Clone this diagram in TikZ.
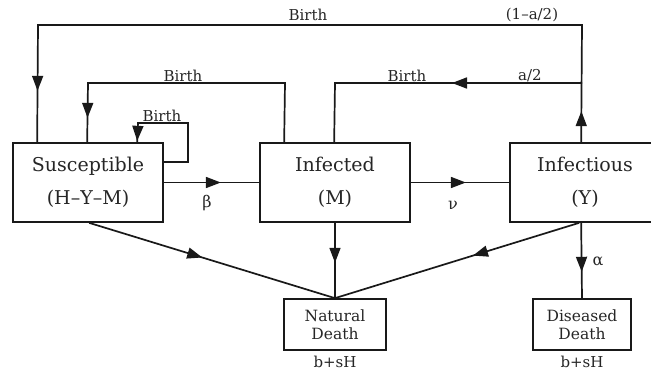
\documentclass[tikz,border=0pt]{standalone}
\usepackage{fontspec}
\setmainfont{DejaVu Serif}
\usetikzlibrary{arrows.meta,decorations.markings}
\tikzset{
  x=1pt,y=-1pt,
  mytip/.tip={Triangle[length=15pt,width=11pt]},
  ln/.style={line width=1.7pt,line join=miter,draw=black!90},
  box/.style={ln,rectangle,inner sep=0pt,align=center,text=black!85},
  bigbox/.style={box,minimum width=150pt,minimum height=79pt,font=\fontsize{19}{33}\selectfont},
  smallbox/.style={box,minimum height=51pt,font=\fontsize{15.5}{18}\selectfont},
  lbl/.style={inner sep=0pt,text=black!85,font=\fontsize{15}{18}\selectfont},
  glbl/.style={inner sep=0pt,text=black!85,font=\fontsize{16}{18}\selectfont},
  arrs/.style={postaction={decorate,decoration={markings,mark=at position #1 with {\arrow{mytip}}}}},
  arrsII/.style 2 args={postaction={decorate,decoration={markings,
      mark=at position #1 with {\arrow{mytip}},mark=at position #2 with {\arrow{mytip}}}}}
}
\begin{document}
\begin{tikzpicture}
\useasboundingbox[fill=white] (0,0) rectangle (651,373);
% boxes
\node[bigbox] (S) at (88,182.5) {Susceptible\\(H–Y–M)};
\node[bigbox] (I) at (335,182.5) {Infected\\(M)};
\node[bigbox] (Y) at (585,182.5) {Infectious\\(Y)};
\node[smallbox,minimum width=102pt] (ND) at (335,324.5) {Natural\\Death};
\node[smallbox,minimum width=98pt] (DD) at (582,324.5) {Diseased\\Death};
% corner coordinates
\coordinate (t1) at (582,25);
\coordinate (t2) at (38,25);
\coordinate (m1) at (285,83);
\coordinate (m2) at (88,83);
\coordinate (j) at (582,83);
\coordinate (m3) at (335,83);
\coordinate (s1) at (188,162);
\coordinate (s2) at (188,123);
\coordinate (s3) at (138,123);
% birth loops
\draw[ln,arrsII={31pt}{727pt}] ([xshift=72pt]Y.north west) -- (t1) -- (t2) -- ([xshift=25pt]S.north west);
\draw[ln,arrs={291pt}] ([xshift=25pt]I.north west) -- (m1) -- (m2) -- ([xshift=75pt]S.north west);
\draw[ln,arrs={130pt}] (j) -- (m3) -- ([xshift=75pt]I.north west);
\draw[ln,arrs={131pt}] ([yshift=20.5pt]S.east) -- (s1) -- (s2) -- (s3) -- ([xshift=125pt]S.north west);
% transitions
\draw[ln,arrs={57pt}] (S.east) -- (I.west);
\draw[ln,arrs={55pt}] (I.east) -- (Y.west);
% deaths
\draw[ln,arrs={0.46}] ([xshift=77pt]S.south west) -- (ND.north);
\draw[ln,arrs={0.53}] (I.south) -- (ND.north);
\draw[ln,arrs={0.435}] ([xshift=70pt]Y.south west) -- (ND.north);
\draw[ln,arrs={0.65}] ([xshift=72pt]Y.south west) -- (DD.north);
% labels
\node[lbl] (lb1) at (308,15) {Birth};
\node[lbl] (lb2) at (532,15) {(1–a/2)};
\node[lbl] (lb3) at (183,76) {Birth};
\node[lbl] (lb4) at (162,116) {Birth};
\node[lbl] (lb5) at (407,76) {Birth};
\node[lbl] (lb6) at (530,76) {a/2};
\node[glbl] (lbeta) at (207,203) {β};
\node[glbl] (lnu) at (453,205) {ν};
\node[glbl] (lalpha) at (598,261) {α};
\node[lbl] (lnd) at (335,362) {b+sH};
\node[lbl] (ldd) at (582,362) {b+sH};
\end{tikzpicture}
\end{document}
